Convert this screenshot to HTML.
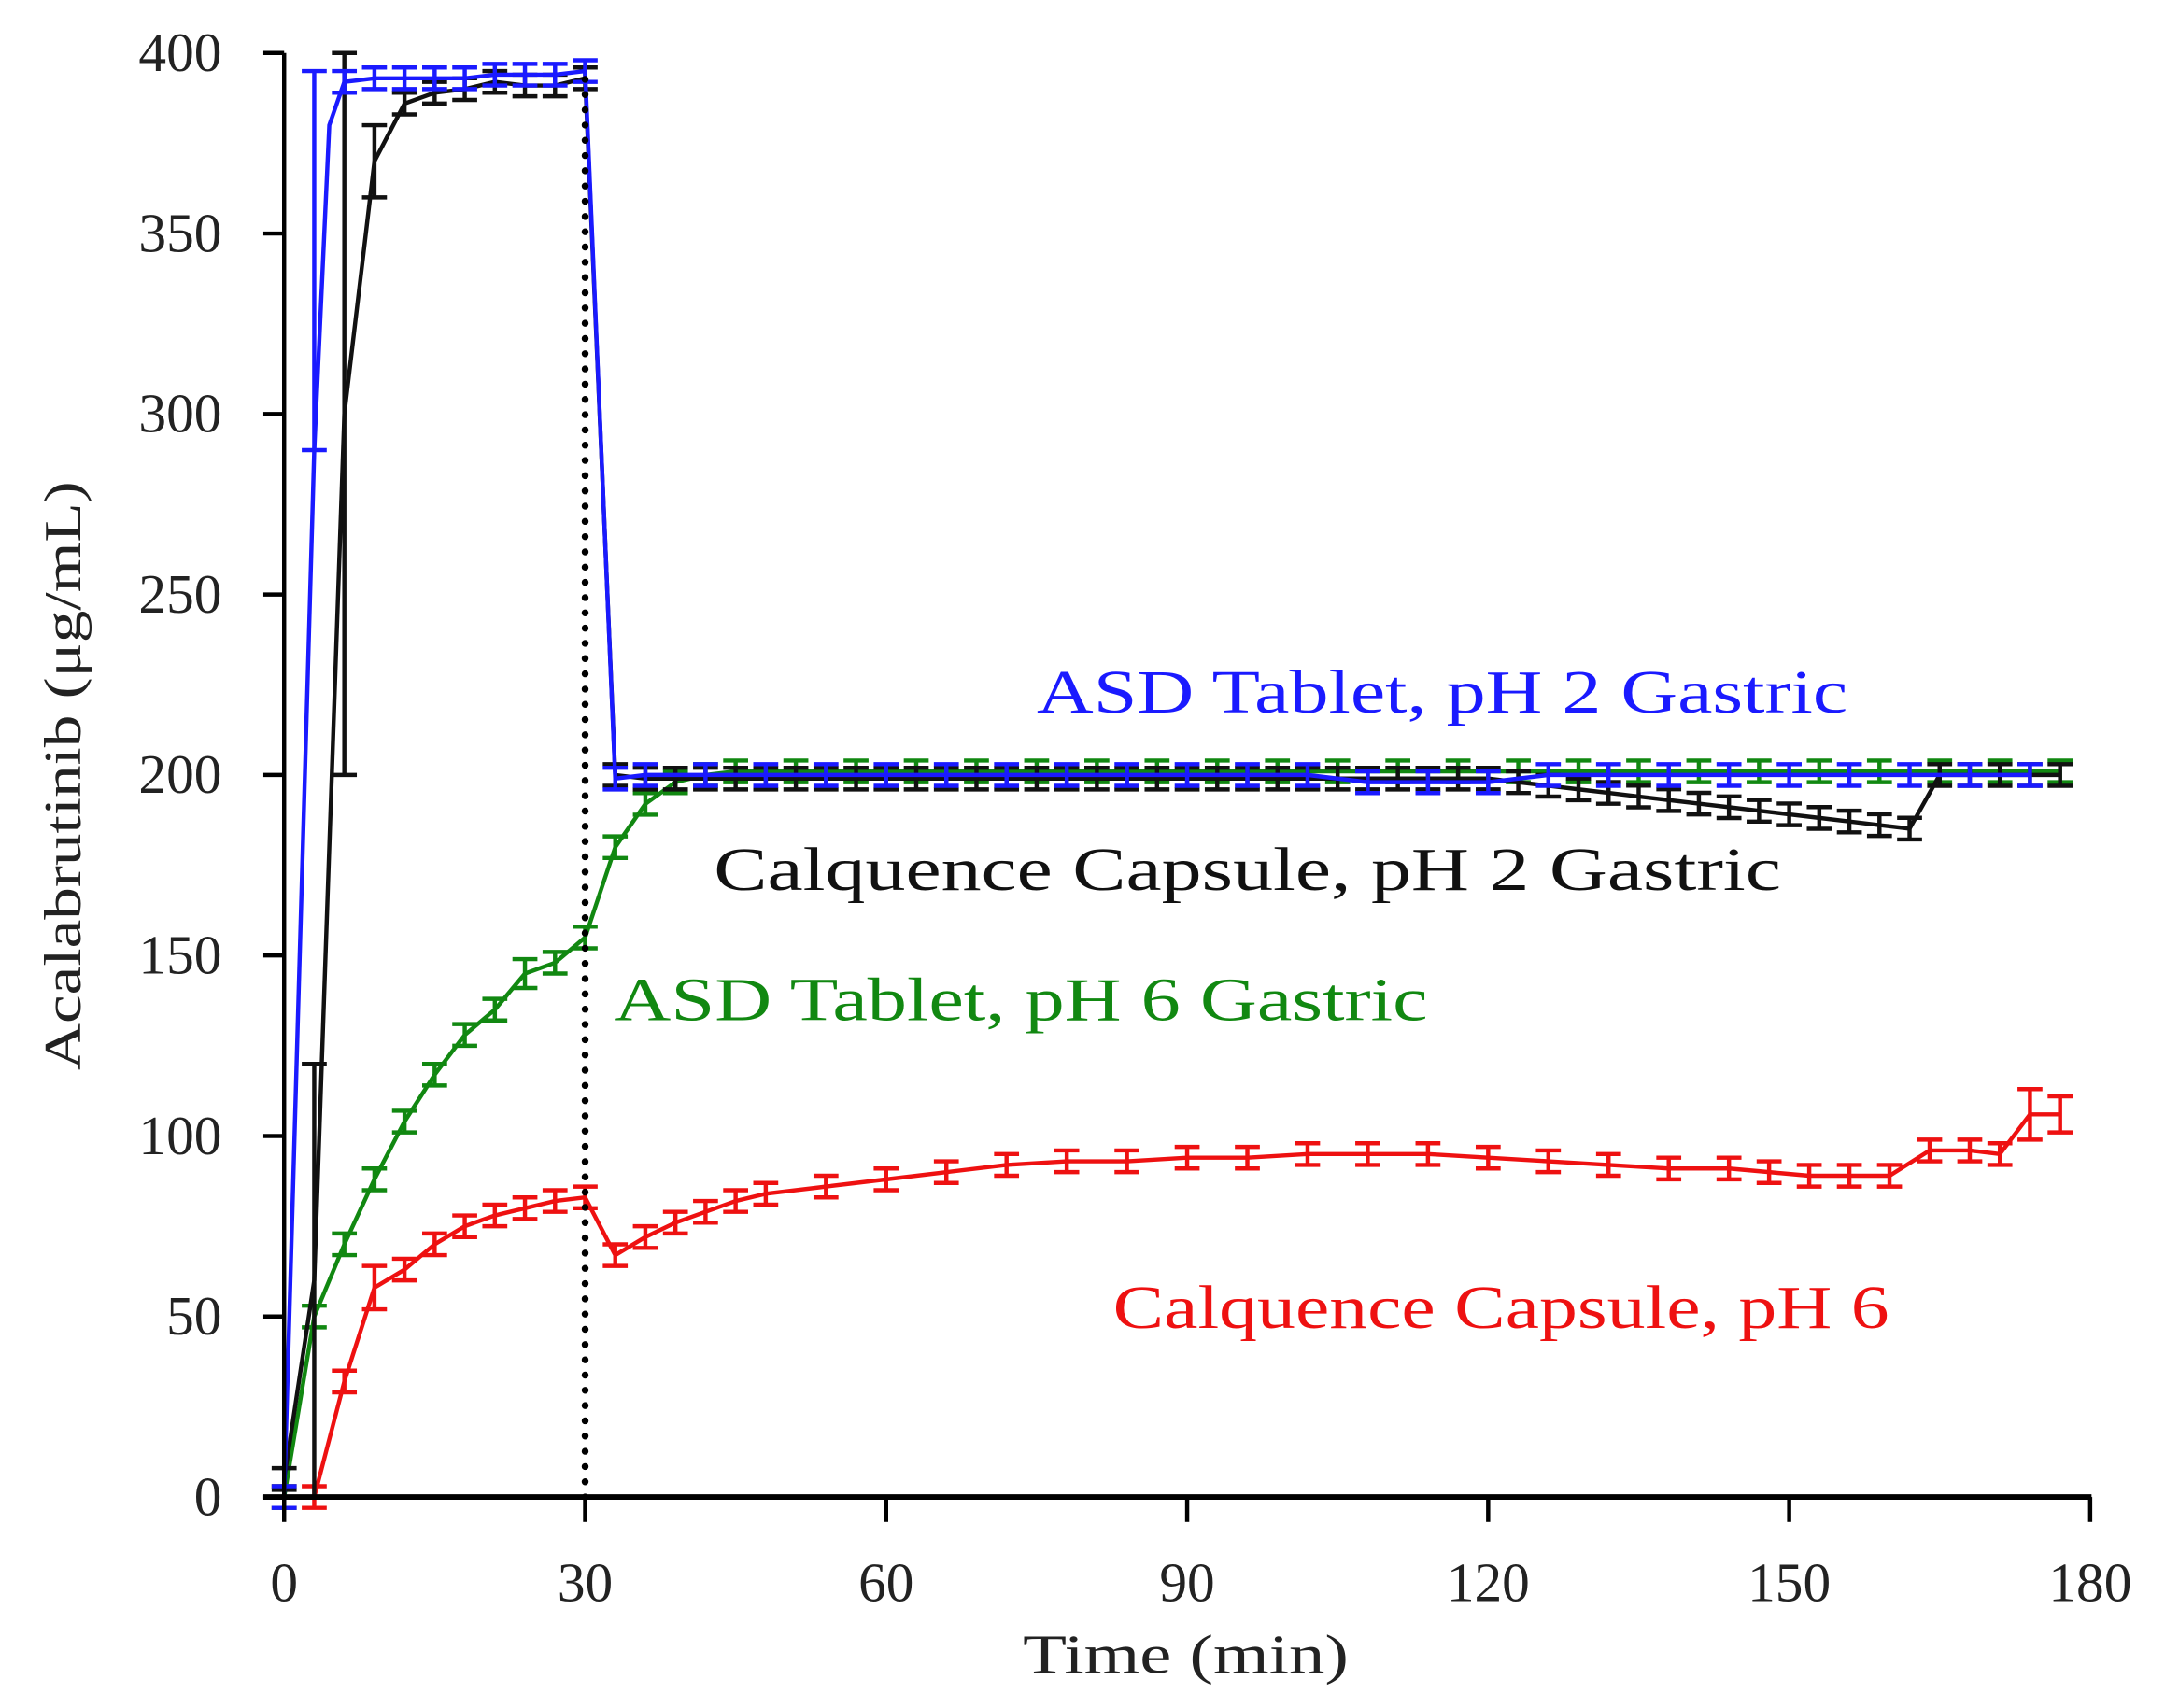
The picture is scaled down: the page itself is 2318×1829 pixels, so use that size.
<!DOCTYPE html>
<html><head><meta charset="utf-8"><style>
html,body{margin:0;padding:0;background:#fff;}
svg{display:block;}
text{font-family:"Liberation Serif",serif;}
</style></head><body>
<svg id="s" width="2318" height="1829" viewBox="0 0 1562 1232" xmlns="http://www.w3.org/2000/svg">
<g id="plot"></g>
<line x1="205" y1="38" x2="205" y2="1080" stroke="#000" stroke-width="3"/>
<line x1="190" y1="1080" x2="1509" y2="1080" stroke="#000" stroke-width="4"/>
<g stroke="#000" stroke-width="3" id="ticks"></g>
<g font-size="40" fill="#222" text-anchor="end" id="ylab"></g>
<g font-size="40" fill="#222" text-anchor="middle" id="xlab"></g>
<text x="738" y="1207" font-size="40" fill="#222" textLength="235" lengthAdjust="spacingAndGlyphs">Time (min)</text>
<text transform="translate(58,772) rotate(-90)" font-size="38" fill="#222" textLength="425" lengthAdjust="spacingAndGlyphs">Acalabrutinib (μg/mL)</text>
<text x="748" y="514" font-size="44" fill="#1a1aff" textLength="585" lengthAdjust="spacingAndGlyphs">ASD Tablet, pH 2 Gastric</text>
<text x="515" y="642" font-size="44" fill="#111" textLength="770" lengthAdjust="spacingAndGlyphs">Calquence  Capsule,  pH 2 Gastric</text>
<text x="443" y="736" font-size="44" fill="#118811" textLength="587" lengthAdjust="spacingAndGlyphs">ASD Tablet, pH 6 Gastric</text>
<text x="803" y="958" font-size="44" fill="#ee1111" textLength="560" lengthAdjust="spacingAndGlyphs">Calquence Capsule, pH 6</text>
</svg>
<script>
const NS="http://www.w3.org/2000/svg";
const X=t=>205+t*7.239, Y=v=>1080-v*2.605;
function el(p,n,a){const e=document.createElementNS(NS,n);for(const k in a)e.setAttribute(k,a[k]);p.appendChild(e);return e;}
const tk=document.getElementById('ticks'),yl=document.getElementById('ylab'),xl=document.getElementById('xlab');
for(let v=0;v<=400;v+=50){el(tk,'line',{x1:190,y1:Y(v),x2:205,y2:Y(v)});const t=el(yl,'text',{x:160,y:Y(v)+13});t.textContent=v;}
for(let t=0;t<=180;t+=30){el(tk,'line',{x1:X(t),y1:1080,x2:X(t),y2:1098});const e=el(xl,'text',{x:X(t),y:1155});e.textContent=t;}
const plot=document.getElementById('plot');
function series(pts,col,w){
  el(plot,'polyline',{points:pts.map(p=>X(p[0])+','+Y(p[1])).join(' '),fill:'none',stroke:col,'stroke-width':w||3});
  pts.forEach(p=>{if(p[4])return;const lo=p[2]===undefined?3:p[2];const hi=p[3]===undefined?lo:p[3];const x=X(p[0]);
    el(plot,'line',{x1:x,y1:Y(p[1]-lo),x2:x,y2:Y(p[1]+hi),stroke:col,'stroke-width':3});
    el(plot,'line',{x1:x-9,y1:Y(p[1]+hi),x2:x+9,y2:Y(p[1]+hi),stroke:col,'stroke-width':3});
    el(plot,'line',{x1:x-9,y1:Y(p[1]-lo),x2:x+9,y2:Y(p[1]-lo),stroke:col,'stroke-width':3});});
}
function flat(a,b,v,step,f){const r=[];for(let t=a;t<=b;t+=step)r.push([t,f?f(t):v]);return r;}
series([[0,0],[3,0],[6,32],[9,58,6],[12,63],[15,70],[18,75],[21,78],[24,80],[27,82],[30,83],[33,67],[36,72],[39,76],[42,79],[45,82],[48,84],[54,86],[60,88],[66,90],[72,92],[78,93],[84,93],[90,94],[96,94],[102,95],[108,95],[114,95],[120,94],[126,93],[132,92],[138,91],[144,91],[148,90],[152,89],[156,89],[160,89],[164,96],[168,96],[171,95],[174,106,7],[177,106,5]],'#ee1111');
series([[0,0],[3,50],[6,70],[9,88],[12,104],[15,117],[18,128],[21,135],[24,145,4],[27,148],[30,155],[33,180],[36,192],[39,198],[42,200]].concat(flat(45,177,201,6)),'#118811');
const bk=[[0,5],[3,60,60],[6,300,100],[9,370,10],[12,386],[15,389],[18,390],[21,392],[24,391],[27,391],[30,393],[33,200]];
for(let t=36;t<=177;t+=3){let v=199; if(t>120&&t<=162)v=199-(t-120)*0.33; if(t>162)v=200; bk.push([t,v]);}
series(bk,'#111');
series([[0,0],[3,290,0,105],[4.5,380,0,0,1],[6,392],[9,393],[12,393],[15,393],[18,393],[21,394],[24,394],[27,394],[30,395],[33,199]].concat(flat(36,177,200,6,t=>t>105&&t<125?198:200)),'#1a1aff');
el(plot,'line',{x1:X(30),y1:Y(0),x2:X(30),y2:Y(396),stroke:'#000','stroke-width':5,'stroke-dasharray':'0 11','stroke-linecap':'round'});
</script>
</body></html>
